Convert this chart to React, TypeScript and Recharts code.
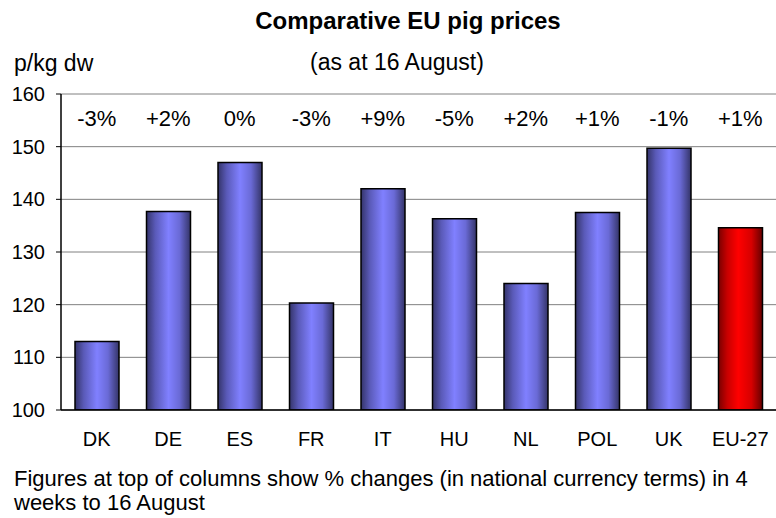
import React from 'react';
import { ComposedChart, Bar, XAxis, YAxis, CartesianGrid, Cell } from 'recharts';

const countries = ['DK', 'DE', 'ES', 'FR', 'IT', 'HU', 'NL', 'POL', 'UK', 'EU-27'];
const prices = [113, 137.7, 147, 120.3, 142, 136.3, 124, 137.5, 149.7, 134.6];
const pctChanges = ['-3%', '+2%', '0%', '-3%', '+9%', '-5%', '+2%', '+1%', '-1%', '+1%'];
const yTicks = [100, 110, 120, 130, 140, 150, 160];

const title = 'Comparative EU pig prices';
const subtitle = '(as at 16 August)';
const unitLabel = 'p/kg dw';
const footLine1 = 'Figures at top of columns show % changes (in national currency terms) in 4';
const footLine2 = 'weeks to 16 August';

const data = countries.map((c, i) => ({ country: c, price: prices[i], pct: pctChanges[i] }));

const FONT = '"Liberation Sans", Arial, sans-serif';

export default function App() {
  return (
    <div style={{ position: 'absolute', left: 0, top: 0, width: 776, height: 518, background: '#fff', fontFamily: FONT, color: '#000' }}>
      <div style={{ position: 'absolute', left: 0, width: 816, top: 9, textAlign: 'center', fontSize: 24, fontWeight: 'bold', lineHeight: '24px', whiteSpace: 'nowrap' }}>{title}</div>
      <div style={{ position: 'absolute', left: 14, top: 52, fontSize: 23, lineHeight: '23px', whiteSpace: 'nowrap' }}>{unitLabel}</div>
      <div style={{ position: 'absolute', left: 310, top: 51, fontSize: 23, lineHeight: '23px', whiteSpace: 'nowrap' }}>{subtitle}</div>
      <div style={{ position: 'absolute', left: 14, top: 467, fontSize: 22, lineHeight: '24px', whiteSpace: 'nowrap' }}>
        {footLine1}<br />{footLine2}
      </div>
      <ComposedChart
        width={776}
        height={518}
        data={data}
        margin={{ top: 94, right: 0, left: 0, bottom: 68 }}
        style={{ position: 'absolute', left: 0, top: 0 }}
      >
        <defs>
          <linearGradient id="blueGrad" x1="0" y1="0" x2="1" y2="0">
            <stop offset="0%" stopColor="#34346a" />
            <stop offset="20%" stopColor="#5a5ab8" />
            <stop offset="50%" stopColor="#8080ff" />
            <stop offset="75%" stopColor="#6a6ad6" />
            <stop offset="100%" stopColor="#343468" />
          </linearGradient>
          <linearGradient id="redGrad" x1="0" y1="0" x2="1" y2="0">
            <stop offset="0%" stopColor="#7a0000" />
            <stop offset="20%" stopColor="#c80000" />
            <stop offset="45%" stopColor="#ff0000" />
            <stop offset="75%" stopColor="#d60000" />
            <stop offset="100%" stopColor="#660000" />
          </linearGradient>
        </defs>
        <CartesianGrid vertical={false} stroke="#808080" strokeWidth={1} />
        <XAxis
          dataKey="country"
          tickLine={false}
          axisLine={{ stroke: '#000', strokeWidth: 1.5 }}
          tick={{ fontSize: 20, fill: '#000', fontFamily: FONT }}
          tickMargin={16}
          height={40}
        />
        <XAxis
          xAxisId="pct"
          dataKey="pct"
          orientation="top"
          mirror
          tickLine={false}
          axisLine={false}
          tick={{ fontSize: 22, fill: '#000', fontFamily: FONT }}
          tickMargin={10}
          height={1}
        />
        <YAxis
          domain={[100, 160]}
          ticks={yTicks}
          interval={0}
          width={61}
          tickSize={5}
          tickMargin={11}
          axisLine={{ stroke: '#000', strokeWidth: 1.5 }}
          tickLine={{ stroke: '#000' }}
          tick={{ fontSize: 20, fill: '#000', fontFamily: FONT }}
          allowDataOverflow
        />
        <Bar dataKey="price" isAnimationActive={false} stroke="#000" strokeWidth={1.5} barSize={44}>
          {data.map((d, i) => (
            <Cell key={d.country} fill={i === data.length - 1 ? 'url(#redGrad)' : 'url(#blueGrad)'} />
          ))}
        </Bar>
      </ComposedChart>
    </div>
  );
}
